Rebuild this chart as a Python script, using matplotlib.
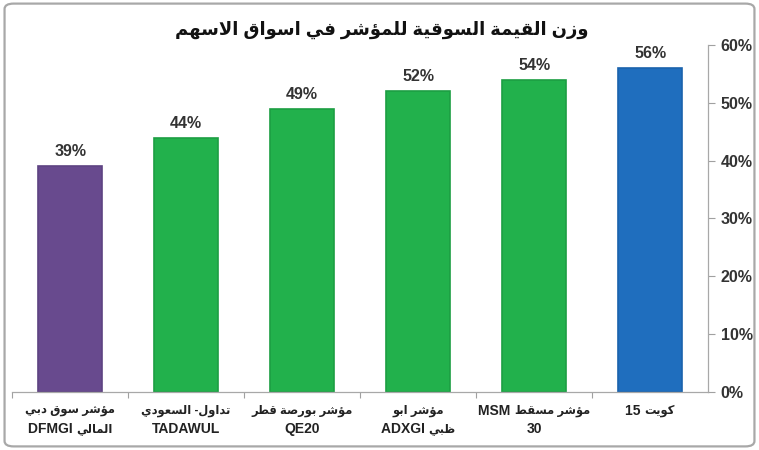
import numpy as np
import matplotlib
matplotlib.use("Agg")
import matplotlib.pyplot as plt
import matplotlib.transforms as mtransforms
from matplotlib.patches import FancyBboxPatch
from matplotlib.ticker import FixedLocator, PercentFormatter

plt.rcParams['font.family'] = ['Liberation Sans', 'DejaVu Sans']

# Arabic presentation forms (isolated base code; +1 final, +2 initial, +3 medial)
DUAL = {'ب': 0xFE8F, 'ت': 0xFE95, 'ث': 0xFE99, 'ج': 0xFE9D, 'ح': 0xFEA1, 'خ': 0xFEA5,
        'س': 0xFEB1, 'ش': 0xFEB5, 'ص': 0xFEB9, 'ض': 0xFEBD, 'ط': 0xFEC1, 'ظ': 0xFEC5,
        'ع': 0xFEC9, 'غ': 0xFECD, 'ف': 0xFED1, 'ق': 0xFED5, 'ك': 0xFED9, 'ل': 0xFEDD,
        'م': 0xFEE1, 'ن': 0xFEE5, 'ه': 0xFEE9, 'ي': 0xFEF1, 'ئ': 0xFE89}
RIGHT = {'ا': 0xFE8D, 'أ': 0xFE83, 'إ': 0xFE87, 'آ': 0xFE81, 'ة': 0xFE93, 'د': 0xFEA9,
         'ذ': 0xFEAB, 'ر': 0xFEAD, 'ز': 0xFEAF, 'و': 0xFEED, 'ؤ': 0xFE85, 'ى': 0xFEEF}
LAMALEF = {'ا': 0xFEFB, 'أ': 0xFEF7, 'إ': 0xFEF9, 'آ': 0xFEF5}


def ar(text):
    """Shape Arabic letters and reverse them into visual order."""
    out, link, i = [], False, 0
    while i < len(text):
        c = text[i]
        nxt = text[i + 1] if i + 1 < len(text) else ''
        if c == 'ل' and nxt in LAMALEF:
            out.append(chr(LAMALEF[nxt] + (1 if link else 0)))
            link = False
            i += 2
            continue
        if c in DUAL:
            to_next = nxt in DUAL or nxt in RIGHT
            form = (3 if to_next else 1) if link else (2 if to_next else 0)
            out.append(chr(DUAL[c] + form))
            link = True
        elif c in RIGHT:
            out.append(chr(RIGHT[c] + (1 if link else 0)))
            link = False
        else:
            out.append(c)
            link = False
        i += 1
    return ''.join(reversed(out))


# ---- data ----
title = ar("وزن القيمة السوقية للمؤشر في اسواق الاسهم")
# each label: list of lines, each line: list of (text, is_arabic) in visual order
labels = [
    [[(ar("مؤشر سوق دبي"), True)], [("DFMGI ", False), (ar("المالي"), True)]],
    [[(ar("تداول- السعودي"), True)], [("TADAWUL", False)]],
    [[(ar("مؤشر بورصة قطر"), True)], [("QE20", False)]],
    [[(ar("مؤشر ابو"), True)], [("ADXGI ", False), (ar("ظبي"), True)]],
    [[("MSM ", False), (ar("مؤشر مسقط"), True)], [("30", False)]],
    [[("15 ", False), (ar("كويت"), True)]],
]
values = [0.39, 0.44, 0.49, 0.52, 0.54, 0.56]
colors = ["#684A8E", "#22B14C", "#22B14C", "#22B14C", "#22B14C", "#1F6EBE"]
edges = ["#5E4382", "#1C9E43", "#1C9E43", "#1C9E43", "#1C9E43", "#1B63AD"]
yticks = [0, 0.1, 0.2, 0.3, 0.4, 0.5, 0.6]

fig = plt.figure(figsize=(7.59, 4.5), dpi=100)
fig.patches.append(FancyBboxPatch((0.006, 0.008), 0.988, 0.984,
                                  boxstyle="round,pad=0,rounding_size=0.012",
                                  transform=fig.transFigure, fc="white",
                                  ec="#a8a8a8", lw=1.6, zorder=-1))

ax = fig.add_axes([0.016, 0.129, 0.917, 0.771])
ax.patch.set_alpha(0)
x = np.arange(len(values))
ax.bar(x, values, width=0.55, color=colors, edgecolor=edges, linewidth=1.2)

for xi, v in zip(x, values):
    ax.text(xi, v + 0.012, f"{v:.0%}", ha="center", va="bottom",
            fontsize=11.5, fontweight="bold", color="#333333")

ax.set_xlim(-0.5, len(values) - 0.5)
ax.set_ylim(0, 0.6)

ax.yaxis.tick_right()
ax.set_yticks(yticks)
ax.yaxis.set_major_formatter(PercentFormatter(1.0, decimals=0))
ax.tick_params(axis="y", direction="out", length=5, width=0.8, color="#a0a0a0",
               labelsize=11.5, labelcolor="#333333", pad=4)
for t in ax.get_yticklabels():
    t.set_fontweight("bold")

ax.set_xticks(x)
ax.set_xticklabels([])
ax.tick_params(axis="x", length=0)
ax.xaxis.set_minor_locator(FixedLocator(np.arange(-0.5, len(values) - 0.5, 1.0)))
ax.tick_params(axis="x", which="minor", direction="out", length=4, width=0.8,
               color="#a0a0a0")

for side in ("top", "left"):
    ax.spines[side].set_visible(False)
for side in ("right", "bottom"):
    ax.spines[side].set_color("#a8a8a8")
    ax.spines[side].set_linewidth(0.9)

fig.text(0.503, 0.934, title, ha="center", va="center", fontsize=13,
         fontweight="bold", color="#111111")

# category labels, built segment by segment so Arabic and Latin can differ in size
fig.canvas.draw()
renderer = fig.canvas.get_renderer()
base = mtransforms.blended_transform_factory(ax.transData, ax.transAxes)
line_y = [-19, -37]  # pixel offsets below the axis for the line centres
for xi, lines in zip(x, labels):
    for li, segs in enumerate(lines):
        items = []
        for s, is_ar in segs:
            t = ax.text(xi, 0, s, ha="left", va="center", transform=base,
                        fontsize=8.3 if is_ar else 10, fontweight="bold",
                        color="#222222", clip_on=False)
            items.append(t)
        widths = [t.get_window_extent(renderer).width for t in items]
        cursor = -sum(widths) / 2
        for t, w in zip(items, widths):
            t.set_transform(base + mtransforms.Affine2D().translate(cursor, line_y[li]))
            cursor += w

fig.savefig("out.png", dpi=100)
